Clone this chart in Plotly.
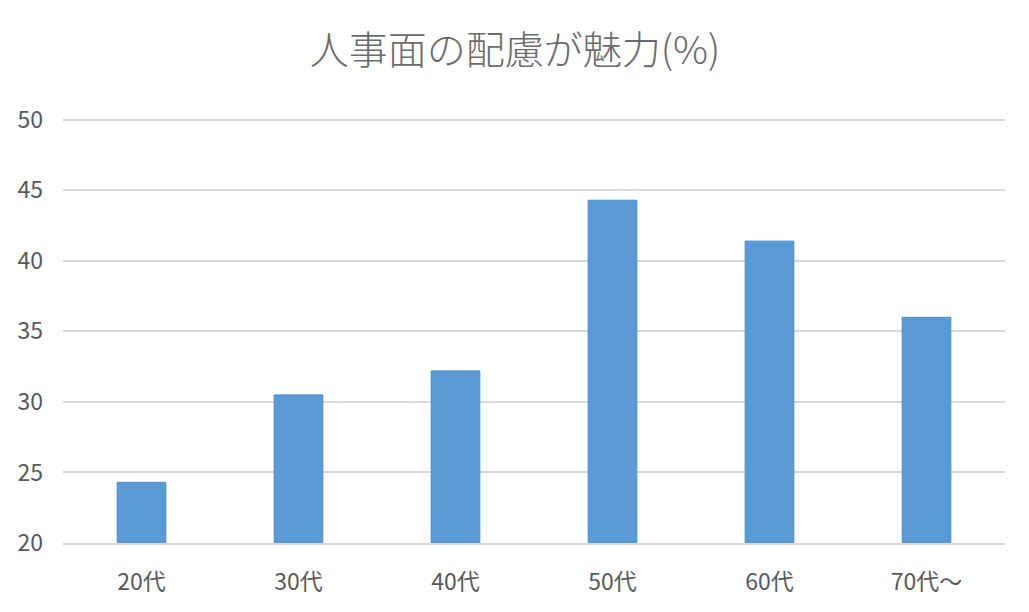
import plotly.graph_objects as go

# data
ages = ['20代', '30代', '40代', '50代', '60代', '70代～']
pct = [24.3, 30.5, 32.2, 44.3, 41.4, 36.0]
yticks = [20, 25, 30, 35, 40, 45, 50]

font_jp = 'Noto Sans CJK JP, Noto Sans, sans-serif'

bars = go.Bar(x=ages, y=pct, marker=dict(color='#5b9bd5', line=dict(color='#4a8ccc', width=1)))

fig = go.Figure(bars)
# page body adds an 8px offset, so margins are shifted to compensate
fig.update_layout(
    width=1029, height=612,
    paper_bgcolor='white', plot_bgcolor='white',
    margin=dict(l=55, r=32, t=109, b=77),
    bargap=0.69,
    showlegend=False,
    title=dict(text='人事面の配慮が魅力(%)', x=0.4927, xanchor='center', y=0.931, yanchor='middle',
               font=dict(family=font_jp, size=39, color='#6b6b6b', weight=300)),
    font=dict(family=font_jp, size=23, color='#595959'),
)
fig.update_yaxes(range=[20, 50.2], tickvals=yticks, showgrid=True, gridcolor='#d9d9d9', gridwidth=1.5,
                 zeroline=False, showline=False, ticks='', ticklabelstandoff=19, automargin=False,
                 tickfont=dict(size=23, color='#595959'))
fig.update_xaxes(showline=True, linecolor='#d9d9d9', linewidth=1.5, ticks='', automargin=False,
                 tickfont=dict(size=23, color='#595959'), ticklabelstandoff=18)

fig.write_html("out.html")
